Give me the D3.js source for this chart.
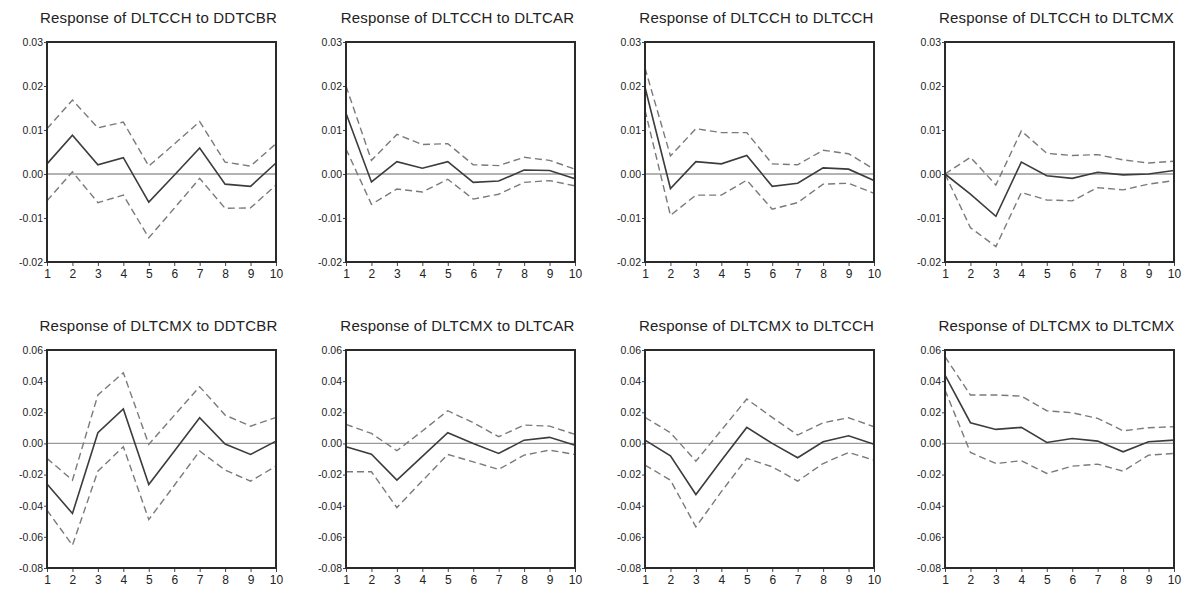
<!DOCTYPE html>
<html>
<head>
<meta charset="utf-8">
<script src="https://cdn.jsdelivr.net/npm/d3@7"></script>
<style>
  body { margin: 0; background: #fff; }
  svg { display: block; }
</style>
</head>
<body>
<svg id="chart" width="1182" height="595"></svg>
<script>
// Impulse horizon (periods)
const periods = [1, 2, 3, 4, 5, 6, 7, 8, 9, 10];
const periodLabels = ["1", "2", "3", "4", "5", "6", "7", "8", "9", "10"];

// Y tick values for each row of panels
const yTicksTop = [0.03, 0.02, 0.01, 0.00, -0.01, -0.02];
const yTicksBottom = [0.06, 0.04, 0.02, 0.00, -0.02, -0.04, -0.06, -0.08];

// Response of DLTCCH to DDTCBR
const cchCbrMid   = [0.0023, 0.0088, 0.0021, 0.0037, -0.0064, -0.0003, 0.0059, -0.0023, -0.0028, 0.0025];
const cchCbrUpper = [0.0103, 0.0168, 0.0105, 0.0118, 0.0018, 0.0068, 0.0119, 0.0027, 0.0018, 0.0069];
const cchCbrLower = [-0.0061, 0.0005, -0.0065, -0.0048, -0.0145, -0.0078, -0.0010, -0.0078, -0.0077, -0.0025];

// Response of DLTCCH to DLTCAR
const cchCarMid   = [0.0138, -0.0018, 0.0028, 0.0013, 0.0028, -0.0019, -0.0016, 0.0009, 0.0008, -0.0011];
const cchCarUpper = [0.0200, 0.0031, 0.0090, 0.0067, 0.0069, 0.0021, 0.0019, 0.0038, 0.0031, 0.0011];
const cchCarLower = [0.0057, -0.0069, -0.0034, -0.0041, -0.0012, -0.0057, -0.0046, -0.0019, -0.0015, -0.0027];

// Response of DLTCCH to DLTCCH
const cchCchMid   = [0.0197, -0.0033, 0.0028, 0.0023, 0.0042, -0.0028, -0.0021, 0.0014, 0.0011, -0.0015];
const cchCchUpper = [0.0241, 0.0041, 0.0103, 0.0094, 0.0094, 0.0023, 0.0021, 0.0054, 0.0046, 0.0011];
const cchCchLower = [0.0145, -0.0094, -0.0048, -0.0048, -0.0014, -0.0080, -0.0065, -0.0023, -0.0021, -0.0044];

// Response of DLTCCH to DLTCMX
const cchCmxMid   = [0.0000, -0.0046, -0.0096, 0.0027, -0.0004, -0.0010, 0.0004, -0.0002, 0.0000, 0.0008];
const cchCmxUpper = [0.0000, 0.0038, -0.0025, 0.0098, 0.0047, 0.0042, 0.0044, 0.0032, 0.0025, 0.0029];
const cchCmxLower = [0.0000, -0.0122, -0.0165, -0.0042, -0.0059, -0.0061, -0.0031, -0.0036, -0.0023, -0.0015];

// Response of DLTCMX to DDTCBR
const cmxCbrMid   = [-0.0260, -0.0450, 0.0069, 0.0221, -0.0264, -0.0050, 0.0165, -0.0004, -0.0071, 0.0015];
const cmxCbrUpper = [-0.0096, -0.0236, 0.0311, 0.0454, -0.0006, 0.0180, 0.0364, 0.0182, 0.0111, 0.0167];
const cmxCbrLower = [-0.0429, -0.0654, -0.0178, -0.0021, -0.0489, -0.0270, -0.0049, -0.0171, -0.0242, -0.0146];

// Response of DLTCMX to DLTCAR
const cmxCarMid   = [-0.0021, -0.0069, -0.0236, -0.0083, 0.0069, 0.0000, -0.0064, 0.0021, 0.0039, -0.0011];
const cmxCarUpper = [0.0122, 0.0064, -0.0047, 0.0080, 0.0210, 0.0133, 0.0043, 0.0118, 0.0111, 0.0058];
const cmxCarLower = [-0.0182, -0.0182, -0.0412, -0.0240, -0.0071, -0.0118, -0.0167, -0.0075, -0.0043, -0.0071];

// Response of DLTCMX to DLTCCH
const cmxCchMid   = [0.0021, -0.0079, -0.0328, -0.0110, 0.0103, 0.0000, -0.0092, 0.0011, 0.0049, -0.0006];
const cmxCchUpper = [0.0167, 0.0069, -0.0114, 0.0085, 0.0285, 0.0167, 0.0054, 0.0133, 0.0165, 0.0107];
const cmxCchLower = [-0.0139, -0.0236, -0.0536, -0.0310, -0.0096, -0.0150, -0.0242, -0.0129, -0.0058, -0.0107];

// Response of DLTCMX to DLTCMX
const cmxCmxMid   = [0.0439, 0.0133, 0.0090, 0.0103, 0.0006, 0.0032, 0.0015, -0.0054, 0.0011, 0.0021];
const cmxCmxUpper = [0.0557, 0.0311, 0.0311, 0.0304, 0.0210, 0.0197, 0.0161, 0.0081, 0.0101, 0.0107];
const cmxCmxLower = [0.0343, -0.0058, -0.0129, -0.0111, -0.0193, -0.0146, -0.0133, -0.0178, -0.0075, -0.0064];

const panels = [
  { title: "Response of DLTCCH to DDTCBR", row: 0, col: 0, mid: cchCbrMid, upper: cchCbrUpper, lower: cchCbrLower },
  { title: "Response of DLTCCH to DLTCAR", row: 0, col: 1, mid: cchCarMid, upper: cchCarUpper, lower: cchCarLower },
  { title: "Response of DLTCCH to DLTCCH", row: 0, col: 2, mid: cchCchMid, upper: cchCchUpper, lower: cchCchLower },
  { title: "Response of DLTCCH to DLTCMX", row: 0, col: 3, mid: cchCmxMid, upper: cchCmxUpper, lower: cchCmxLower },
  { title: "Response of DLTCMX to DDTCBR", row: 1, col: 0, mid: cmxCbrMid, upper: cmxCbrUpper, lower: cmxCbrLower },
  { title: "Response of DLTCMX to DLTCAR", row: 1, col: 1, mid: cmxCarMid, upper: cmxCarUpper, lower: cmxCarLower },
  { title: "Response of DLTCMX to DLTCCH", row: 1, col: 2, mid: cmxCchMid, upper: cmxCchUpper, lower: cmxCchLower },
  { title: "Response of DLTCMX to DLTCMX", row: 1, col: 3, mid: cmxCmxMid, upper: cmxCmxUpper, lower: cmxCmxLower }
];

// Grid geometry
const colLeft = [47, 346, 645, 945];
const plotWidth = 229;
const rowTop = [42, 350];
const rowHeight = [220, 218];
const rowTicks = [yTicksTop, yTicksBottom];

const svg = d3.select("#chart");
const fontFamily = "'Liberation Sans', Arial, sans-serif";
const ink = "#222";
const fmt = d => d.toFixed(2);

panels.forEach(p => {
  const x0 = colLeft[p.col];
  const y0 = rowTop[p.row];
  const h = rowHeight[p.row];
  const ticks = rowTicks[p.row];

  const x = d3.scaleLinear().domain([1, 10]).range([0, plotWidth]);
  const y = d3.scaleLinear().domain(d3.extent(ticks)).range([h, 0]);

  const g = svg.append("g").attr("transform", `translate(${x0},${y0})`);

  // Title
  g.append("text")
    .attr("x", plotWidth / 2 - 3)
    .attr("y", -19)
    .attr("text-anchor", "middle")
    .attr("font-family", fontFamily)
    .attr("font-size", 15)
    .attr("letter-spacing", 0.2)
    .attr("fill", ink)
    .text(p.title);

  // Y axis
  const ya = g.append("g")
    .call(d3.axisLeft(y).tickValues(ticks).tickFormat(fmt).tickSize(3).tickPadding(1));
  ya.select(".domain").remove();
  ya.selectAll("line").attr("stroke", "#444");
  ya.selectAll("text")
    .attr("font-family", fontFamily)
    .attr("font-size", 10.5)
    .attr("fill", ink);

  // X axis
  const xa = g.append("g")
    .attr("transform", `translate(0,${h})`)
    .call(d3.axisBottom(x).tickValues(periods).tickFormat((d, i) => periodLabels[i]).tickSize(4).tickPadding(3));
  xa.select(".domain").remove();
  xa.selectAll("line").attr("stroke", "#444");
  xa.selectAll("text")
    .attr("font-family", fontFamily)
    .attr("font-size", 12)
    .attr("fill", ink);

  // Zero reference line
  g.append("line")
    .attr("x1", 0).attr("x2", plotWidth)
    .attr("y1", y(0)).attr("y2", y(0))
    .attr("stroke", "#9a9a9a")
    .attr("stroke-width", 1.3);

  const line = d3.line()
    .x((d, i) => x(periods[i]))
    .y(d => y(d));

  // Confidence bands (±2 S.E.)
  [p.upper, p.lower].forEach(band => {
    g.append("path")
      .datum(band)
      .attr("d", line)
      .attr("fill", "none")
      .attr("stroke", "#7a7a7a")
      .attr("stroke-width", 1.4)
      .attr("stroke-dasharray", "7,4");
  });

  // Impulse response
  g.append("path")
    .datum(p.mid)
    .attr("d", line)
    .attr("fill", "none")
    .attr("stroke", "#3c3c3c")
    .attr("stroke-width", 1.6);

  // Frame
  g.append("rect")
    .attr("x", 0).attr("y", 0)
    .attr("width", plotWidth).attr("height", h)
    .attr("fill", "none")
    .attr("stroke", "#2a2a2a")
    .attr("stroke-width", 2);
});
</script>
</body>
</html>
